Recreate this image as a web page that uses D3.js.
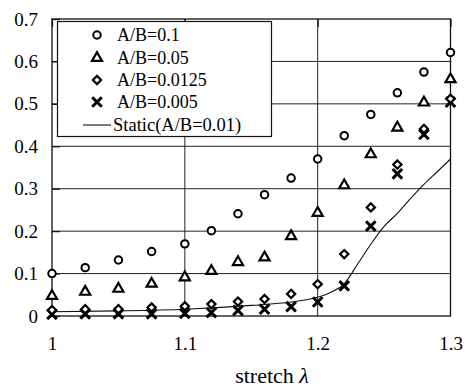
<!DOCTYPE html>
<html>
<head>
<meta charset="utf-8">
<script src="https://cdn.jsdelivr.net/npm/d3@7"></script>
<style>
  html, body { margin: 0; padding: 0; background: #fff; }
</style>
</head>
<body>
<svg id="chart" width="467" height="389"></svg>
<script>
// ---- data ----
const stretch = [1, 1.025, 1.05, 1.075, 1.1, 1.12, 1.14, 1.16, 1.18, 1.2, 1.22, 1.24, 1.26, 1.28, 1.3];
const ab0100  = [0.100, 0.114, 0.132, 0.152, 0.170, 0.201, 0.241, 0.286, 0.325, 0.370, 0.425, 0.475, 0.526, 0.575, 0.621];
const ab0050  = [0.047, 0.057, 0.064, 0.076, 0.091, 0.106, 0.127, 0.138, 0.188, 0.243, 0.308, 0.381, 0.444, 0.503, 0.558];
const ab0125  = [0.014, 0.016, 0.016, 0.020, 0.023, 0.028, 0.034, 0.040, 0.052, 0.075, 0.146, 0.256, 0.357, 0.441, 0.512];
const ab0005  = [0.004, 0.005, 0.005, 0.005, 0.006, 0.008, 0.013, 0.016, 0.022, 0.033, 0.071, 0.212, 0.335, 0.428, 0.504];
const staticX = [1, 1.05, 1.1, 1.15, 1.18, 1.2, 1.21, 1.22, 1.23, 1.24, 1.25, 1.26, 1.27, 1.28, 1.29, 1.3];
const staticY = [0.010, 0.012, 0.016, 0.025, 0.033, 0.044, 0.056, 0.076, 0.122, 0.169, 0.211, 0.242, 0.277, 0.310, 0.340, 0.370];
const xTicks = [1, 1.1, 1.2, 1.3];
const xTickLabels = ["1", "1.1", "1.2", "1.3"];
const yTicks = [0, 0.1, 0.2, 0.3, 0.4, 0.5, 0.6, 0.7];
const yTickLabels = ["0", "0.1", "0.2", "0.3", "0.4", "0.5", "0.6", "0.7"];
const seriesNames = ["A/B=0.1", "A/B=0.05", "A/B=0.0125", "A/B=0.005"];
const staticName = "Static(A/B=0.01)";
const xTitle = "stretch ";
const xTitleSym = "\u03BB";

// ---- layout ----
const FONT = '"Liberation Serif"';
const svg = d3.select("#chart");
const L = 52, R = 450.5, T = 19, B = 316;
const x = d3.scaleLinear().domain([1, 1.3]).range([L, R]);
const y = d3.scaleLinear().domain([0, 0.7]).range([B, T]);

// gridlines
const grid = svg.append("g");
grid.selectAll("line.h").data(yTicks.slice(1, -1)).join("line")
  .attr("x1", L).attr("x2", R).attr("y1", d => y(d)).attr("y2", d => y(d))
  .attr("stroke", "#222").attr("stroke-width", 1);
grid.selectAll("line.v").data(xTicks.slice(1, -1)).join("line")
  .attr("x1", d => x(d)).attr("x2", d => x(d)).attr("y1", T).attr("y2", B)
  .attr("stroke", "#222").attr("stroke-width", 1);

// plot frame
svg.append("rect").attr("x", L).attr("y", T).attr("width", R - L).attr("height", B - T)
  .attr("fill", "none").attr("stroke", "#111").attr("stroke-width", 1.3);

// axes (inward ticks)
const yAxis = svg.append("g").attr("transform", `translate(${L},0)`)
  .call(d3.axisLeft(y).tickValues(yTicks).tickFormat((d, i) => yTickLabels[i]).tickSizeInner(-8).tickSizeOuter(0).tickPadding(14));
const xAxis = svg.append("g").attr("transform", `translate(0,${B})`)
  .call(d3.axisBottom(x).tickValues(xTicks).tickFormat((d, i) => xTickLabels[i]).tickSizeInner(0).tickSizeOuter(0).tickPadding(21));
const xTop = svg.append("g").attr("transform", `translate(0,${T})`)
  .call(d3.axisTop(x).tickValues(xTicks).tickFormat("").tickSizeInner(-8).tickSizeOuter(0));
[yAxis, xAxis, xTop].forEach(a => {
  a.attr("font-family", null);
  a.select(".domain").remove();
  a.selectAll(".tick line").attr("stroke", "#111").attr("stroke-width", 1.2);
  a.selectAll("text").attr("fill", "#000").style("font-family", FONT).style("font-size", "19px");
});

// static curve
const line = d3.line().x(d => x(d[0])).y(d => y(d[1])).curve(d3.curveMonotoneX);
svg.append("path").datum(staticX.map((v, i) => [v, staticY[i]]))
  .attr("d", line).attr("fill", "none").attr("stroke", "#111").attr("stroke-width", 1.1);

// marker shapes
const squareDiamond = {
  draw(ctx, size) {
    const r = Math.sqrt(size) / 2;
    ctx.moveTo(0, -r); ctx.lineTo(r, 0); ctx.lineTo(0, r); ctx.lineTo(-r, 0); ctx.closePath();
  }
};
const symCircle = d3.symbol().type(d3.symbolCircle).size(44);
const symTri = d3.symbol().type(d3.symbolTriangle).size(44);
const symDia = d3.symbol().type(squareDiamond).size(68);
const symCross = d3.symbol().type(d3.symbolX).size(62);
const markerDefs = [
  { vals: ab0100, sym: symCircle, sw: 2 },
  { vals: ab0050, sym: symTri, sw: 2.2 },
  { vals: ab0125, sym: symDia, sw: 2.2 },
  { vals: ab0005, sym: symCross, sw: 3 }
];
// draw crosses first so open markers sit on top
[3, 2, 1, 0].forEach(k => {
  const m = markerDefs[k];
  svg.append("g").selectAll("path").data(stretch.map((v, i) => [v, m.vals[i]])).join("path")
    .attr("transform", d => `translate(${x(d[0])},${y(d[1])})`)
    .attr("d", m.sym())
    .attr("fill", k === 3 ? "none" : "#fff")
    .attr("stroke", "#000").attr("stroke-width", m.sw);
});

// legend
const lg = svg.append("g");
lg.append("rect").attr("x", 57.5).attr("y", 21.5).attr("width", 214).attr("height", 115)
  .attr("fill", "#fff").attr("stroke", "#111").attr("stroke-width", 1.2);
const rowY = [35, 58, 80, 102, 125];
markerDefs.forEach((m, i) => {
  lg.append("path").attr("transform", `translate(97,${rowY[i]})`).attr("d", m.sym())
    .attr("fill", i === 3 ? "none" : "#fff").attr("stroke", "#000").attr("stroke-width", m.sw);
  lg.append("text").attr("x", 117).attr("y", rowY[i]).attr("dy", "0.35em")
    .style("font-family", FONT).style("font-size", "18px").attr("fill", "#000").text(seriesNames[i]);
});
lg.append("line").attr("x1", 83).attr("x2", 111).attr("y1", rowY[4]).attr("y2", rowY[4])
  .attr("stroke", "#111").attr("stroke-width", 1.1);
lg.append("text").attr("x", 113).attr("y", rowY[4]).attr("dy", "0.35em")
  .style("font-family", FONT).style("font-size", "18.5px").attr("fill", "#000").text(staticName);

// x title
const t = svg.append("text").attr("x", 272).attr("y", 383).attr("text-anchor", "middle")
  .style("font-family", FONT).style("font-size", "22px").attr("fill", "#000");
t.append("tspan").text(xTitle);
t.append("tspan").attr("font-style", "italic").text(xTitleSym);
</script>
</body>
</html>
